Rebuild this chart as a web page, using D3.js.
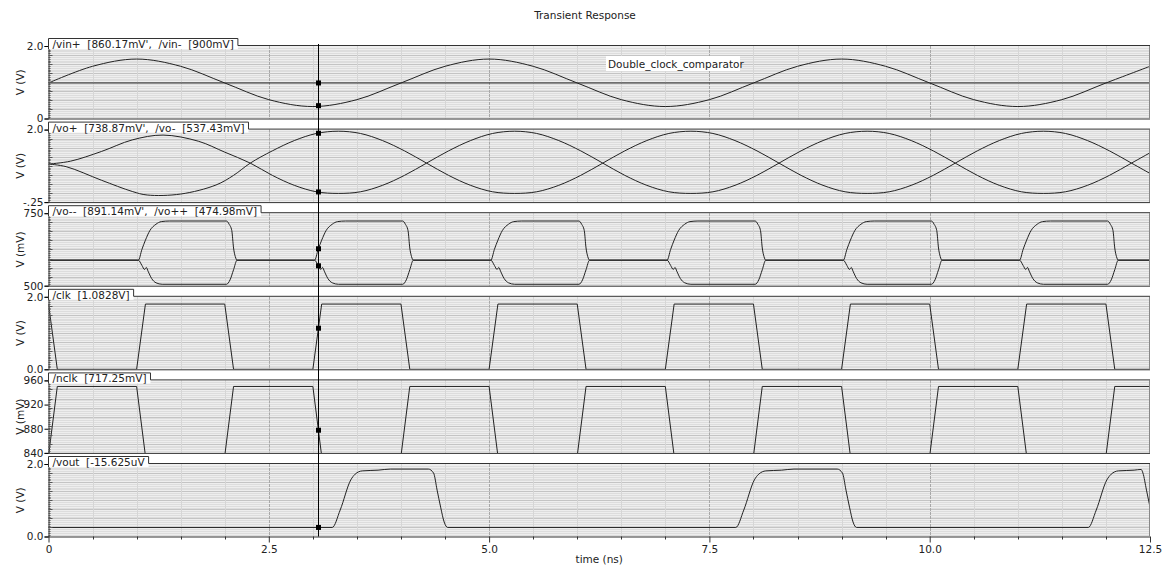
<!DOCTYPE html>
<html>
<head>
<meta charset="utf-8">
<script src="https://cdn.jsdelivr.net/npm/d3@7"></script>
<style>
  body { margin: 0; background: #fff; }
  svg { display: block; }
  text { font-family: "DejaVu Sans", sans-serif; fill: #222; white-space: pre; }
</style>
</head>
<body>
<div id="chart"></div>
<script>
(function(){

// ---- data (time in ns) ----
var timeTicks = [0, 2.5, 5, 7.5, 10, 12.5];
var timeTickLabels = ["0", "2.5", "5.0", "7.5", "10.0", "12.5"];
var cursorTime = 3.063;

var vinPlus = [[0,0.98],[0.5,1.44],[1,1.64],[1.5,1.44],[2,0.98],[2.5,0.52],[3,0.33],[3.5,0.52],
  [4,0.98],[4.5,1.44],[5,1.64],[5.5,1.44],[6,0.98],[6.5,0.52],[7,0.33],[7.5,0.52],
  [8,0.98],[8.5,1.44],[9,1.64],[9.5,1.44],[10,0.98],[10.5,0.52],[11,0.33],[11.5,0.52],
  [12,0.98],[12.5,1.44]];
var vinMinus = [[0,0.98],[12.5,0.98]];

var voPlus = [[0,0.93],[0.25,1.02],[0.6,1.32],[0.95,1.68],[1.3,1.83],[1.7,1.64],[2.0,1.30],[2.29,0.96],
  [2.54,0.58],[2.79,0.27],[3.04,0.07],[3.29,0.02],[3.54,0.07],[3.79,0.27],[4.04,0.58],[4.29,0.96],
  [4.54,1.34],[4.79,1.66],[5.04,1.88],[5.29,1.95],[5.54,1.88],[5.79,1.66],[6.04,1.34],[6.29,0.96],
  [6.54,0.58],[6.79,0.27],[7.04,0.07],[7.29,0.02],[7.54,0.07],[7.79,0.27],[8.04,0.58],[8.29,0.96],
  [8.54,1.34],[8.79,1.66],[9.04,1.88],[9.29,1.95],[9.54,1.88],[9.79,1.66],[10.04,1.34],[10.29,0.96],
  [10.54,0.58],[10.79,0.27],[11.04,0.07],[11.29,0.02],[11.54,0.07],[11.79,0.27],[12.04,0.58],[12.29,0.96],
  [12.5,1.28]];
var voMinus = [[0,0.93],[0.2,0.85],[0.6,0.43],[0.95,0.08],[1.12,-0.03],[1.5,0.0],[1.9,0.28],[2.1,0.58],[2.29,0.96],
  [2.54,1.34],[2.79,1.66],[3.04,1.88],[3.29,1.95],[3.54,1.88],[3.79,1.66],[4.04,1.34],[4.29,0.96],
  [4.54,0.58],[4.79,0.27],[5.04,0.07],[5.29,0.02],[5.54,0.07],[5.79,0.27],[6.04,0.58],[6.29,0.96],
  [6.54,1.34],[6.79,1.66],[7.04,1.88],[7.29,1.95],[7.54,1.88],[7.79,1.66],[8.04,1.34],[8.29,0.96],
  [8.54,0.58],[8.79,0.27],[9.04,0.07],[9.29,0.02],[9.54,0.07],[9.79,0.27],[10.04,0.58],[10.29,0.96],
  [10.54,1.34],[10.79,1.66],[11.04,1.88],[11.29,1.95],[11.54,1.88],[11.79,1.66],[12.04,1.34],[12.29,0.96],
  [12.5,0.64]];

// latch outputs: one pulse shape (offset from pulse start, mV) and the start times
var latchStarts = [1.02, 3.02, 5.02, 7.02, 9.02, 11.02];
var latchRest = 588;
var latchUp = [[0,588],[0.04,625],[0.08,657],[0.13,690],[0.2,712],[0.26,721],[0.35,723],[1.0,723],
  [1.03,712],[1.06,690],[1.08,630],[1.1,600],[1.12,588]];
var latchDown = [[0,588],[0.04,570],[0.07,556],[0.09,563],[0.11,550],[0.15,525],[0.2,510],[0.27,505],
  [1.0,505],[1.04,520],[1.08,555],[1.12,588]];

var clk = [[0,1.8],[0.1,0],[1.0,0],[1.1,1.8],[2.0,1.8],[2.1,0],[3.0,0],[3.1,1.8],[4.0,1.8],[4.1,0],
  [5.0,0],[5.1,1.8],[6.0,1.8],[6.1,0],[7.0,0],[7.1,1.8],[8.0,1.8],[8.1,0],[9.0,0],[9.1,1.8],
  [10.0,1.8],[10.1,0],[11.0,0],[11.1,1.8],[12.0,1.8],[12.1,0],[12.5,0]];
var nclk = [[0,835],[0.1,950],[1.0,950],[1.1,835],[2.0,835],[2.1,950],[3.0,950],[3.1,835],[4.0,835],[4.1,950],
  [5.0,950],[5.1,835],[6.0,835],[6.1,950],[7.0,950],[7.1,835],[8.0,835],[8.1,950],[9.0,950],[9.1,835],
  [10.0,835],[10.1,950],[11.0,950],[11.1,835],[12.0,835],[12.1,950],[12.5,950]];

var vout = [[0,0.25],[3.22,0.25],[3.31,0.73],[3.43,1.56],[3.48,1.72],[3.56,1.81],[3.74,1.83],[3.88,1.86],
  [4.31,1.86],[4.37,1.75],[4.41,1.28],[4.45,0.81],[4.49,0.40],[4.53,0.25],
  [7.8,0.25],[7.89,0.73],[8.01,1.56],[8.06,1.72],[8.14,1.81],[8.32,1.83],[8.46,1.86],
  [8.95,1.86],[9.01,1.75],[9.05,1.28],[9.09,0.81],[9.13,0.40],[9.17,0.25],
  [11.8,0.25],[11.89,0.73],[12.01,1.56],[12.06,1.72],[12.14,1.81],[12.32,1.83],[12.4,1.85],
  [12.42,1.75],[12.46,1.28],[12.5,0.81]];

// build latch traces from the pulse shape
function latchTrace(shape){
  var pts = [[0, latchRest]];
  latchStarts.forEach(function(s){
    shape.forEach(function(p){ pts.push([s + p[0], p[1]]); });
  });
  pts.push([12.5, latchRest]);
  return pts;
}
var voMM = latchTrace(latchUp);
var voPP = latchTrace(latchDown);

var panels = [
  {tab: "/vin+  [860.17mV',  /vin-  [900mV]", unit: "V (V)", domain: [0, 2],
    tickVals: [2, 0], tickText: ["2.0", "0"], series: [vinPlus, vinMinus], curve: d3.curveCatmullRom},
  {tab: "/vo+  [738.87mV',  /vo-  [537.43mV]", unit: "V (V)", domain: [-0.25, 2],
    tickVals: [2, -0.25], tickText: ["2.0", "-.25"], series: [voPlus, voMinus], curve: d3.curveCatmullRom},
  {tab: "/vo--  [891.14mV',  /vo++  [474.98mV]", unit: "V (mV)", domain: [500, 750],
    tickVals: [750, 500], tickText: ["750", "500"], series: [voMM, voPP], curve: d3.curveMonotoneX},
  {tab: "/clk  [1.0828V]", unit: "V (V)", domain: [0, 2],
    tickVals: [2, 0], tickText: ["2.0", "0.0"], series: [clk], curve: d3.curveLinear},
  {tab: "/nclk  [717.25mV]", unit: "V (mV)", domain: [840, 960],
    tickVals: [960, 920, 880, 840], tickText: ["960", "920", "880", "840"], series: [nclk], curve: d3.curveLinear},
  {tab: "/vout  [-15.625uV", unit: "V (V)", domain: [0, 2],
    tickVals: [2, 0], tickText: ["2.0", "0.0"], series: [vout], curve: d3.curveMonotoneX}
];

// ---- layout ----
var width = 1167, height = 567;
var left = 48.5, right = 1150;
var firstTop = 46, pitch = 83.6, ph = 72.5;

var svg = d3.select("#chart").append("svg")
  .attr("width", width).attr("height", height);

var x = d3.scaleLinear().domain([0, 12.5]).range([left, right]);

svg.append("text")
  .attr("x", 585).attr("y", 19)
  .attr("text-anchor", "middle")
  .attr("font-size", "10.5px")
  .text("Transient Response");

var dots = [];

panels.forEach(function(p, i){
  var top = firstTop + pitch * i, bottom = top + ph;
  var y = d3.scaleLinear().domain(p.domain).range([bottom, top]);
  var g = svg.append("g");

  // plot background
  g.append("rect")
    .attr("x", left).attr("y", top)
    .attr("width", right - left).attr("height", ph)
    .attr("fill", "#eeeeee");

  // horizontal grid: fine and coarse
  var span = p.domain[1] - p.domain[0];
  g.selectAll(".hf").data(d3.range(1, 40)).enter().append("line")
    .attr("x1", left).attr("x2", right)
    .attr("y1", function(d){ return Math.round(y(p.domain[0] + span * d / 40)) + 0.5; })
    .attr("y2", function(d){ return Math.round(y(p.domain[0] + span * d / 40)) + 0.5; })
    .attr("stroke", "#dddddd");
  g.selectAll(".hc").data(d3.range(1, 8)).enter().append("line")
    .attr("x1", left).attr("x2", right)
    .attr("y1", function(d){ return Math.round(y(p.domain[0] + span * d / 8)) + 0.5; })
    .attr("y2", function(d){ return Math.round(y(p.domain[0] + span * d / 8)) + 0.5; })
    .attr("stroke", "#c4c4c4");

  // vertical grid
  g.selectAll(".vg").data(d3.range(0.5, 12.5, 0.5)).enter().append("line")
    .attr("x1", function(d){ return Math.round(x(d)) + 0.5; })
    .attr("x2", function(d){ return Math.round(x(d)) + 0.5; })
    .attr("y1", top).attr("y2", bottom)
    .attr("stroke", function(d){ return d % 2.5 === 0 ? "#a8a8a8" : "#d6d6d6"; })
    .attr("stroke-dasharray", function(d){ return d % 2.5 === 0 ? "3,1" : null; });

  // signals
  var clipId = "clip" + i;
  svg.append("clipPath").attr("id", clipId).append("rect")
    .attr("x", left).attr("y", top).attr("width", right - left).attr("height", ph);
  var line = d3.line()
    .x(function(d){ return x(d[0]); })
    .y(function(d){ return y(d[1]); })
    .curve(p.curve);
  g.append("g").attr("clip-path", "url(#" + clipId + ")")
    .selectAll("path").data(p.series).enter().append("path")
    .attr("d", line)
    .attr("fill", "none")
    .attr("stroke", "#222")
    .attr("stroke-width", 1);

  // cursor readouts
  p.series.forEach(function(s){
    var k = d3.bisector(function(d){ return d[0]; }).left(s, cursorTime);
    var a = s[k - 1], b = s[k];
    var v = a[1] + (b[1] - a[1]) * (cursorTime - a[0]) / (b[0] - a[0]);
    v = Math.max(p.domain[0], Math.min(p.domain[1], v));
    dots.push(y(v));
  });

  // left axis
  var yAxis = d3.axisLeft(y).tickValues(p.tickVals)
    .tickFormat(function(d, j){ return p.tickText[j]; }).tickSize(4).tickPadding(1);
  var ag = g.append("g").attr("transform", "translate(" + left + ",0)").call(yAxis);
  ag.select(".domain").attr("stroke", "#333");
  ag.selectAll("text").attr("font-size", "10.5px").attr("font-family", "DejaVu Sans").attr("fill", "#333");
  // minor ticks inside
  g.selectAll(".mt").data(d3.range(1, 40)).enter().append("line")
    .attr("x1", left).attr("x2", function(d){ return left + (d % 5 === 0 ? 4 : 2); })
    .attr("y1", function(d){ return Math.round(y(p.domain[0] + span * d / 40)) + 0.5; })
    .attr("y2", function(d){ return Math.round(y(p.domain[0] + span * d / 40)) + 0.5; })
    .attr("stroke", "#555");

  // bottom edge
  g.append("line").attr("x1", left).attr("x2", right)
    .attr("y1", bottom + 0.5).attr("y2", bottom + 0.5).attr("stroke", "#333");
  g.append("line").attr("x1", right - 0.5).attr("x2", right - 0.5)
    .attr("y1", top).attr("y2", bottom).attr("stroke", "#888");

  // unit label
  g.append("text")
    .attr("transform", "translate(24," + (top + ph / 2) + ") rotate(-90)")
    .attr("text-anchor", "middle")
    .attr("font-size", "10.5px")
    .text(p.unit);

  // name tab
  var tabBg = g.append("rect");
  var tabText = g.append("text")
    .attr("x", left + 4).attr("y", top + 2)
    .attr("font-size", "10.5px")
    .text(p.tab);
  var tw = tabText.node().getComputedTextLength() + 8;
  tabBg.attr("x", left + 0.5).attr("y", top - 7)
    .attr("width", tw - 0.5).attr("height", 10)
    .attr("fill", "#fff");
  g.append("path")
    .attr("d", "M" + left + "," + (top + 3) + "V" + (top - 7.5) + "H" + (left + tw) +
      "V" + (top - 0.5) + "H" + right)
    .attr("fill", "none").attr("stroke", "#333");
});

// design name label
svg.append("rect").attr("x", 606).attr("y", 56).attr("width", 134).attr("height", 15).attr("fill", "#fff");
svg.append("text").attr("x", 608).attr("y", 68).attr("font-size", "10.5px").text("Double_clock_comparator");

// x axis under last panel
var axisY = firstTop + pitch * 5 + ph;
var xAxis = d3.axisBottom(x).tickValues(timeTicks)
  .tickFormat(function(d, j){ return timeTickLabels[j]; }).tickSize(6).tickPadding(3);
var xg = svg.append("g").attr("transform", "translate(0," + axisY + ")").call(xAxis);
xg.select(".domain").remove();
xg.selectAll("line").attr("stroke", "#333");
xg.selectAll("text").attr("font-size", "10.5px").attr("font-family", "DejaVu Sans").attr("fill", "#333");
svg.selectAll(".xm").data(d3.range(0.5, 12.5, 0.5).filter(function(d){ return d % 2.5 !== 0; }))
  .enter().append("line")
  .attr("x1", function(d){ return Math.round(x(d)) + 0.5; })
  .attr("x2", function(d){ return Math.round(x(d)) + 0.5; })
  .attr("y1", axisY).attr("y2", axisY + 3)
  .attr("stroke", "#333");
svg.append("text")
  .attr("x", x(6.25)).attr("y", 563)
  .attr("text-anchor", "middle")
  .attr("font-size", "10.5px")
  .text("time (ns)");

// cursor
var cx = Math.round(x(cursorTime)) + 0.5;
svg.append("line").attr("x1", cx).attr("x2", cx)
  .attr("y1", firstTop - 2).attr("y2", axisY)
  .attr("stroke", "#000");
svg.selectAll(".dot").data(dots).enter().append("rect")
  .attr("x", cx - 2.5).attr("y", function(d){ return d - 2.5; })
  .attr("width", 5).attr("height", 5)
  .attr("fill", "#000");

})();
</script>
</body>
</html>
